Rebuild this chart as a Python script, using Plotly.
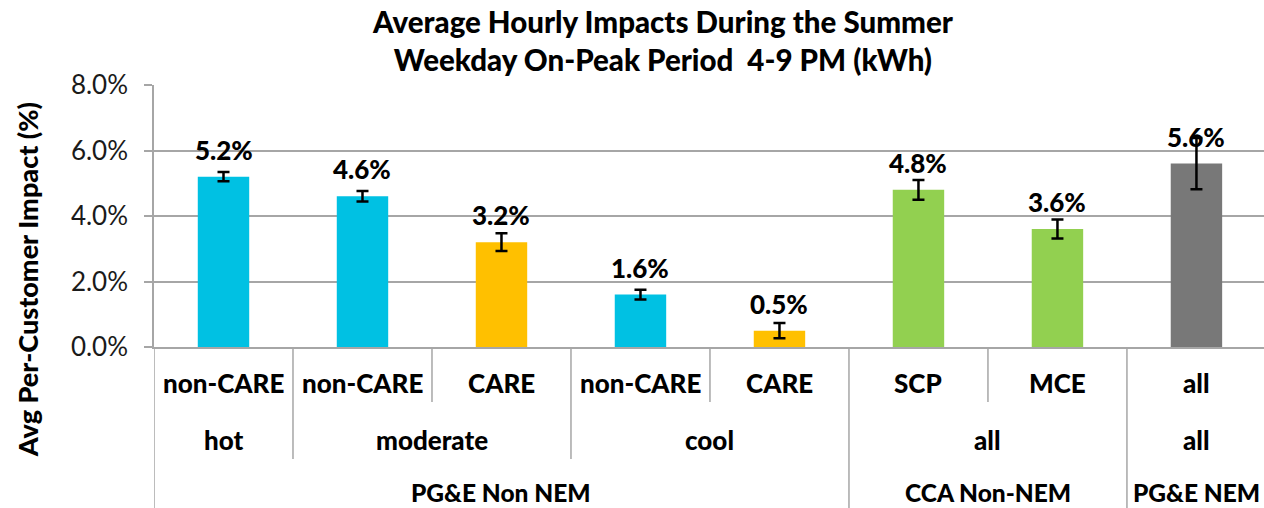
import plotly.graph_objects as go

# --- data ---------------------------------------------------------------
segments = ["non-CARE", "non-CARE", "CARE", "non-CARE", "CARE", "SCP", "MCE", "all"]
climate = ["hot", "moderate", "moderate", "cool", "cool", "all", "all", "all"]
program = ["PG&E Non NEM"] * 5 + ["CCA Non-NEM"] * 2 + ["PG&E NEM"]
impact_pct = [5.2, 4.6, 3.2, 1.6, 0.5, 4.8, 3.6, 5.6]
err_pct = [0.14, 0.16, 0.27, 0.15, 0.23, 0.30, 0.29, 0.78]
bar_colors = ["#00C1E3", "#00C1E3", "#FFC000", "#00C1E3", "#FFC000",
              "#92D050", "#92D050", "#787878"]
y_ticks = [0, 2, 4, 6, 8]

FONT = "Lato"
HEAVY = 900
GRID = "#a6a6a6"
AXIS = "#a6a6a6"

x = list(range(len(segments)))

fig = go.Figure(go.Bar(
    x=x, y=impact_pct,
    marker=dict(color=bar_colors, line=dict(width=0)),
    width=0.37,
    error_y=dict(type="data", array=err_pct, visible=True,
                 color="black", thickness=2.5, width=6),
    hoverinfo="skip",
))

annotations = []

# value labels above each bar
for xi, v in zip(x, impact_pct):
    annotations.append(dict(
        x=xi, y=v, xref="x", yref="y", text=f"{v:.1f}%",
        showarrow=False, yanchor="middle", yshift=27,
        font=dict(family=FONT, size=26, color="black", weight=HEAVY),
    ))


def groups(labels, parents=None):
    """Split a label row into contiguous runs (respecting parent runs)."""
    runs = []
    start = 0
    for i in range(1, len(labels) + 1):
        brk = i == len(labels) or labels[i] != labels[start] or (
            parents is not None and parents[i] != parents[start])
        if brk:
            runs.append((start, i - 1, labels[start]))
            start = i
    return runs


# innermost row: one cell per bar
seg_runs = [(i, i, s) for i, s in enumerate(segments)]
clim_runs = groups(climate, program)
prog_runs = groups(program)

rows = [
    (seg_runs, 36, 26),
    (clim_runs, 93, 26),
    (prog_runs, 145, 24.5),
]
for runs, shift, size in rows:
    for s, e, lab in runs:
        annotations.append(dict(
            x=(s + e) / 2, y=0, xref="x", yref="paper", text=lab,
            showarrow=False, yanchor="middle", yshift=-shift, borderpad=0,
            font=dict(family=FONT, size=size, color="black", weight=HEAVY),
        ))

# category dividers, as deep as the outermost group they separate
divider_depth = {0: 55, 1: 112, 2: 161}
prog_bounds = {r[0] - 0.5 for r in prog_runs}
clim_bounds = {r[0] - 0.5 for r in clim_runs}
shapes = []
for k in range(len(segments)):
    b = k - 0.5
    if b in prog_bounds:
        depth = divider_depth[2]
    elif b in clim_bounds:
        depth = divider_depth[1]
    else:
        depth = divider_depth[0]
    shapes.append(dict(
        type="line", xref="x", yref="paper", ysizemode="pixel", yanchor=0,
        x0=b, x1=b, y0=0, y1=-depth,
        line=dict(color=AXIS, width=1.5),
    ))

# y axis title
annotations.append(dict(
    x=0, y=0.255, xref="paper", yref="paper", xshift=-127,
    text="Avg Per-Customer Impact (%)", textangle=-90,
    showarrow=False, xanchor="center", yanchor="middle",
    font=dict(family=FONT, size=27, color="black", weight=HEAVY),
))

fig.update_layout(
    width=1264, height=508,
    margin=dict(l=154, r=0, t=85, b=161),
    paper_bgcolor="white", plot_bgcolor="white",
    showlegend=False,
    title=dict(
        text="Average Hourly Impacts During the Summer<br>"
             "Weekday On-Peak Period  4-9 PM (kWh)",
        x=0.5245, xref="container", xanchor="center",
        y=0.936, yref="container", yanchor="middle",
        font=dict(family=FONT, size=29.5, color="black", weight=HEAVY),
    ),
    xaxis=dict(
        range=[-0.5, 7.486], showticklabels=False, showgrid=False,
        zeroline=False, showline=True, linecolor=AXIS, linewidth=1.5,
        ticks="", fixedrange=True,
    ),
    yaxis=dict(
        range=[0, 8], tickvals=y_ticks,
        ticktext=[f"{t:.1f}%" for t in y_ticks],
        showgrid=True, gridcolor=GRID, gridwidth=1.5,
        zeroline=False, showline=True, linecolor=AXIS, linewidth=1.5,
        ticks="outside", ticklen=8, tickcolor=AXIS, tickwidth=1.5,
        ticklabelstandoff=11,
        tickfont=dict(family=FONT, size=26, color="#1a1a1a"),
        fixedrange=True,
    ),
    annotations=annotations,
    shapes=shapes,
)

fig.write_html("out.html")
